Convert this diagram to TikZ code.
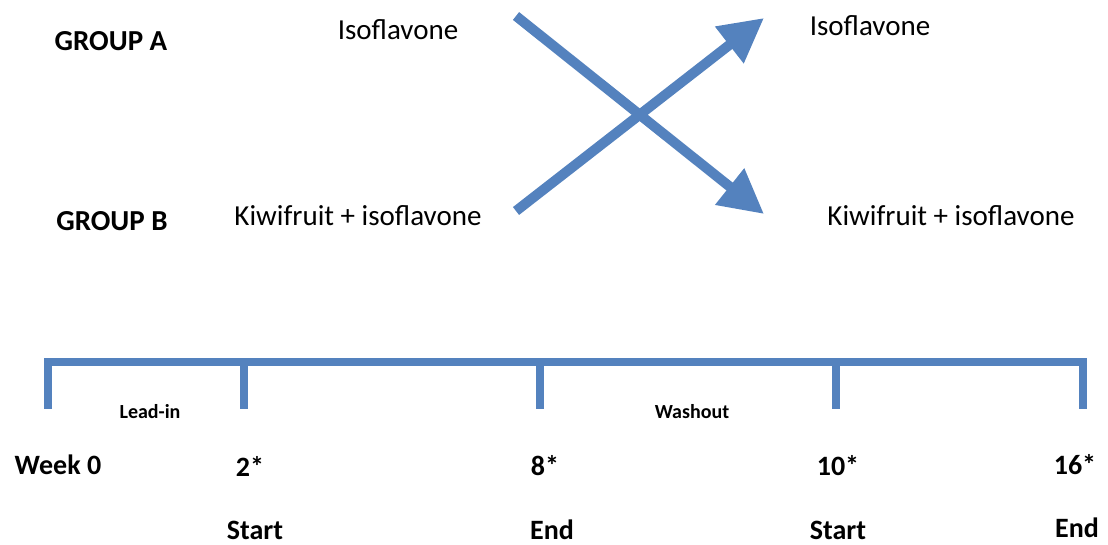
\documentclass[tikz,border=0pt]{standalone}
\usepackage{fontspec}
\setmainfont{Carlito}
\usetikzlibrary{arrows.meta}

\definecolor{armblue}{RGB}{84,130,190}

\tikzset{
  crossarrow/.style={draw=armblue,line width=5pt,-{Triangle[length=22pt,width=22pt]}},
  timebar/.style={draw=armblue,line width=4pt},
  grouplabel/.style={font=\bfseries\fontsize{14.5}{16}\selectfont},
  dietlabel/.style={font=\fontsize{14.5}{16}\selectfont},
  phaselabel/.style={font=\bfseries\fontsize{10}{12}\selectfont},
  weeklabel/.style={font=\bfseries\fontsize{14}{16}\selectfont}
}

\begin{document}
\begin{tikzpicture}[x=0.5pt,y=-0.5pt,thick]

  \useasboundingbox (0,0) rectangle (1108,545);

  % Groups and diets
  \node[grouplabel] (groupA) at (111,41) {GROUP A};
  \node[grouplabel] (groupB) at (112,221) {GROUP B};
  \node[dietlabel] (isoA) at (398,30) {Isoflavone};
  \node[dietlabel] (kiwiB) at (358,216) {Kiwifruit + isoflavone};
  \node[dietlabel] (isoB) at (870,26) {Isoflavone};
  \node[dietlabel] (kiwiA) at (951,216) {Kiwifruit + isoflavone};

  % Crossover
  \coordinate (fromA) at (516,16);
  \coordinate (toA) at (764,214);
  \coordinate (fromB) at (516,211);
  \coordinate (toB) at (764,18);
  \draw[crossarrow] (fromA) -- (toA);
  \draw[crossarrow] (fromB) -- (toB);

  % Timeline
  \coordinate (w0) at (48,362);
  \coordinate (w2) at (244,362);
  \coordinate (w8) at (540,362);
  \coordinate (w10) at (836,362);
  \coordinate (w16) at (1083,362);
  \draw[timebar] ([xshift=-2pt]w0) -- ([xshift=2pt]w16);
  \foreach \t in {w0,w2,w8,w10,w16}
    \draw[timebar] (\t) -- ++(0,47);

  \node[phaselabel] (leadin) at (150,412) {Lead-in};
  \node[phaselabel] (washout) at (692,412) {Washout};

  % Weeks
  \node[weeklabel] (week0) at (58,465) {Week 0};
  \node[weeklabel] (week2) at (250,466) {2*};
  \node[weeklabel] (week8) at (545,466) {8*};
  \node[weeklabel] (week10) at (838,466) {10*};
  \node[weeklabel] (week16) at (1075,465) {16*};
  \node[weeklabel] (start1) at (255,530) {Start};
  \node[weeklabel] (end1) at (552,530) {End};
  \node[weeklabel] (start2) at (838,530) {Start};
  \node[weeklabel] (end2) at (1077,528) {End};

\end{tikzpicture}
\end{document}
